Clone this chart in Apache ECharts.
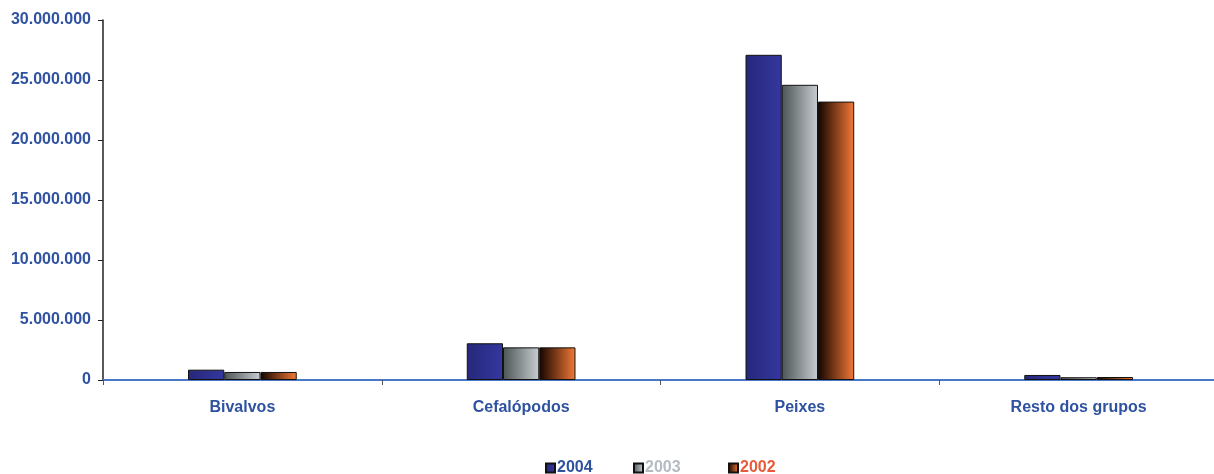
<!DOCTYPE html>
<html>
<head>
<meta charset="utf-8">
<script src="https://cdn.jsdelivr.net/npm/echarts@6/dist/echarts.min.js"></script>
<style>
html,body{margin:0;padding:0;background:#fff;}
#chart{width:1214px;height:474px;}
</style>
</head>
<body>
<div id="chart"></div>
<script>
const categories = ['Bivalvos', 'Cefalópodos', 'Peixes', 'Resto dos grupos'];
const years = ['2004', '2003', '2002'];
const values2004 = [860000, 3060000, 27100000, 420000];
const values2003 = [670000, 2720000, 24600000, 230000];
const values2002 = [670000, 2720000, 23200000, 250000];
const yTicks = { min: 0, max: 30000000, interval: 5000000 };

const blue = '#2E52A0';
function grad(c0, c1) {
  return new echarts.graphic.LinearGradient(0, 0, 1, 0, [
    { offset: 0, color: c0 }, { offset: 1, color: c1 }
  ]);
}
const fills = [grad('#26287A', '#34379E'), grad('#4C5454', '#C9CED3'), grad('#140400', '#F47A36')];
const legendColors = [blue, '#B4BBC2', '#E85A3A'];
const legendLefts = [545, 633, 728];
const seriesData = [values2004, values2003, values2002];

function fmt(v) {
  return String(v).replace(/\B(?=(\d{3})+(?!\d))/g, '.');
}

const chart = echarts.init(document.getElementById('chart'), null, { renderer: 'canvas' });
chart.setOption({
  animation: false,
  backgroundColor: '#fff',
  textStyle: { fontFamily: 'Liberation Sans, Arial, sans-serif' },
  grid: { left: 103, top: 20, width: 1115, height: 360, outerBoundsMode: 'none', containLabel: false },
  legend: years.map((y, i) => ({
    left: legendLefts[i], top: 460, padding: 0,
    icon: 'rect', itemWidth: 9, itemHeight: 9,
    data: [{ name: y }],
    textStyle: { fontSize: 16, fontWeight: 'bold', color: legendColors[i], padding: [0, 0, 0, -3] }
  })),
  xAxis: {
    type: 'category',
    data: categories,
    axisLine: { lineStyle: { color: '#4A78C8', width: 2 } },
    axisTick: { show: true, length: 5, lineStyle: { color: '#555' } },
    axisLabel: { color: blue, fontSize: 16, fontWeight: 'bold', margin: 20 }
  },
  yAxis: {
    type: 'value',
    min: yTicks.min, max: yTicks.max, interval: yTicks.interval,
    splitLine: { show: false },
    axisLine: { show: true, lineStyle: { color: '#222', width: 1.5 } },
    axisTick: { show: true, length: 5, lineStyle: { color: '#222' } },
    axisLabel: { color: blue, fontSize: 16, fontWeight: 'bold', margin: 12, formatter: fmt }
  },
  series: years.map((y, i) => ({
    name: y,
    type: 'bar',
    data: seriesData[i],
    barGap: '0%',
    barCategoryGap: '61%',
    itemStyle: { color: fills[i], borderColor: '#111', borderWidth: 1 }
  }))
});
</script>
</body>
</html>
